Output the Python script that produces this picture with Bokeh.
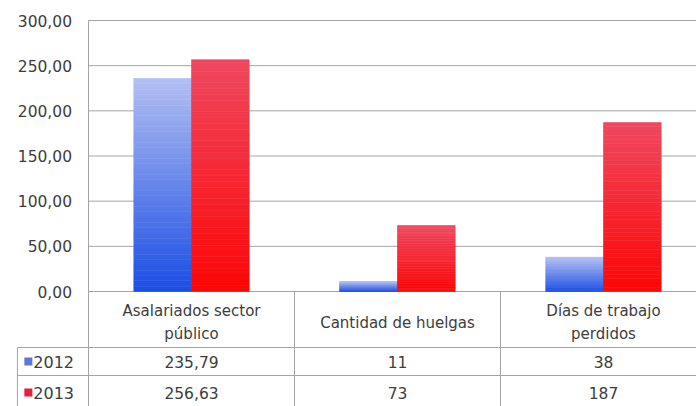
from bokeh.plotting import figure
from bokeh.models import ColumnDataSource, Range1d
from bokeh.core.properties import value
from bokeh.embed import file_html
from bokeh.resources import INLINE

# ---- data ----
categories = ["Asalariados sector público", "Cantidad de huelgas", "Días de trabajo perdidos"]
header_labels = ["Asalariados sector\npúblico", "Cantidad de huelgas", "Días de trabajo\nperdidos"]
series_names = ["2012", "2013"]
values_2012 = [235.79, 11, 38]
values_2013 = [256.63, 73, 187]
y_ticks = [0, 50, 100, 150, 200, 250, 300]
y_tick_labels = ["0,00", "50,00", "100,00", "150,00", "200,00", "250,00", "300,00"]

FONT = "DejaVu Sans"
TXT = "#3d3d3d"
GRID = "#a4a4a4"

W, H = 696, 406
AXIS_X = 88          # pixel where the plot area starts
CAT_W = 206.0        # pixel width of one category column
ZERO_Y, TOP_Y = 291, 20   # pixel rows of 0 and 300

px_per_val = (ZERO_Y - TOP_Y) / 300.0
x_start = -AXIS_X / CAT_W
x_end = (W - AXIS_X) / CAT_W
y_start = -(H - ZERO_Y) / px_per_val
y_end = 300 + TOP_Y / px_per_val


def lerp(c1, c2, t):
    a = [int(c1[i:i + 2], 16) for i in (1, 3, 5)]
    b = [int(c2[i:i + 2], 16) for i in (1, 3, 5)]
    return "#%02x%02x%02x" % tuple(int(round(a[k] + (b[k] - a[k]) * t)) for k in range(3))


def gradient_source(vals, offset, c_bottom, c_top, n=40):
    xs, bottoms, tops, colors = [], [], [], []
    for idx, v in enumerate(vals):
        for i in range(n):
            xs.append(idx + 0.5 + offset)
            bottoms.append(v * i / n)
            tops.append(v * (i + 1) / n)
            colors.append(lerp(c_bottom, c_top, (i + 0.5) / n))
    return ColumnDataSource(dict(x=xs, bottom=bottoms, top=tops, color=colors))


p = figure(width=W, height=H, x_range=Range1d(x_start, x_end), y_range=Range1d(y_start, y_end),
           output_backend="svg", toolbar_location=None,
           min_border=0, min_border_left=0, min_border_right=0, min_border_top=0,
           min_border_bottom=0)
p.outline_line_color = None
p.axis.visible = False
p.grid.grid_line_color = None
# table layer in pixel rows from the top
p.extra_y_ranges = {"tbl": Range1d(H, 0)}

ncat = len(categories)

# gridlines and value axis
p.segment(x0=[0] * len(y_ticks), x1=[x_end] * len(y_ticks), y0=y_ticks, y1=y_ticks,
          line_color=GRID, line_width=1)
p.segment(x0=[0], x1=[0], y0=[y_ticks[-1]], y1=[y_start], line_color=GRID, line_width=1)
p.text(x=[-0.08] * len(y_ticks), y=y_ticks, text=y_tick_labels, text_align="right",
       text_baseline="middle", text_font=value(FONT), text_font_size="15.5px", text_color=TXT)

# bars (vertical gradient, light at top)
src12 = gradient_source(values_2012, -0.14, "#1b4de4", "#b3bff2")
src13 = gradient_source(values_2013, 0.14, "#fc0606", "#ef4860")
for src in (src12, src13):
    p.vbar(x="x", bottom="bottom", top="top", width=0.28, fill_color="color",
           line_color="color", line_width=0.6, source=src)

# ---- data table ----
leg_left = -0.345
row1, row2 = 347, 375
p.segment(x0=[leg_left, leg_left], x1=[x_end, x_end], y0=[row1, row2], y1=[row1, row2],
          line_color=GRID, line_width=1, y_range_name="tbl")
p.segment(x0=[i for i in range(1, ncat)] + [leg_left],
          x1=[i for i in range(1, ncat)] + [leg_left],
          y0=[ZERO_Y] * (ncat - 1) + [row1], y1=[H] * ncat,
          line_color=GRID, line_width=1, y_range_name="tbl")

cx = [i + 0.5 for i in range(ncat)]
p.text(x=cx, y=[322] * ncat, text=header_labels, text_align="center", text_baseline="middle",
       text_font=value(FONT), text_font_size="15px", text_color=TXT, text_line_height=1.3,
       y_range_name="tbl")


def fmt(v):
    return str(int(v)) if float(v).is_integer() else ("%.2f" % v).replace(".", ",")


p.text(x=cx, y=[361] * ncat, text=[fmt(v) for v in values_2012], text_align="center",
       text_baseline="middle", text_font=value(FONT), text_font_size="15.5px",
       text_color=TXT, y_range_name="tbl")
p.text(x=cx, y=[392] * ncat, text=[fmt(v) for v in values_2013], text_align="center",
       text_baseline="middle", text_font=value(FONT), text_font_size="15.5px",
       text_color=TXT, y_range_name="tbl")

# legend keys
p.scatter(x=[-0.292, -0.292], y=[361, 392], marker="square", size=8,
          fill_color=["#5b78d8", "#e8203a"], line_color=None, y_range_name="tbl")
p.text(x=[-0.268, -0.268], y=[361, 392], text=series_names, text_align="left",
       text_baseline="middle", text_font=value(FONT), text_font_size="16px",
       text_color=TXT, y_range_name="tbl")

open("out.html", "w").write(file_html(p, INLINE))
